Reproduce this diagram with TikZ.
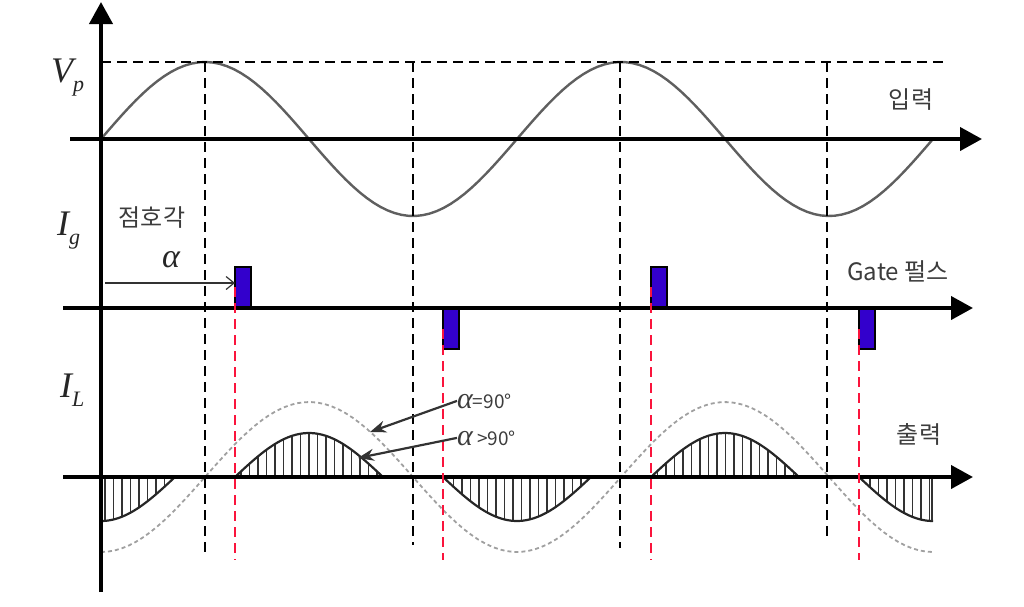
\documentclass[tikz,border=0pt]{standalone}
\usepackage{fontspec}
\newfontfamily\kor{Noto Sans CJK KR}
\newfontfamily\tnr{Liberation Serif}
\usetikzlibrary{arrows.meta}

\definecolor{pulseblue}{RGB}{51,0,204}
\definecolor{firered}{RGB}{250,20,60}
\definecolor{wavegray}{RGB}{95,95,95}
\definecolor{ghostgray}{RGB}{160,160,160}
\definecolor{labgray}{RGB}{60,60,60}

\newcommand{\quantlab}[2]{{\tnr\itshape #1\raisebox{-0.25em}{\fontsize{22}{24}\selectfont #2}}}

\tikzset{
  axis/.style={line width=4pt,-{Triangle[length=22pt,width=23pt]}},
  guide/.style={line width=2.6pt,dash pattern=on 10pt off 6pt},
  fireline/.style={firered,line width=2.6pt,dash pattern=on 10pt off 6pt},
  peakline/.style={line width=2pt,dash pattern=on 10pt off 6pt},
  inwave/.style={wavegray,line width=2.4pt},
  refwave/.style={ghostgray,line width=1.8pt,dash pattern=on 4pt off 3pt},
  outwave/.style={black!85,line width=2.2pt},
  hatch/.style={black!80,line width=1.7pt},
  gpulse/.style={draw,line width=2.4pt,fill=pulseblue,minimum width=16pt,
    minimum height=40pt,inner sep=0pt,outer sep=0pt},
  callout/.style={black!80,line width=2.2pt,-{Stealth[length=16pt,width=12pt]}},
  firearrow/.style={black!80,line width=1.2pt,-{Straight Barb[length=8pt,width=13pt]}},
  kortext/.style={text=labgray,font=\kor\fontsize{24}{28}\selectfont},
  symtext/.style={text=black!85,inner sep=0pt,anchor=base west,
    font=\fontsize{36}{40}\selectfont},
}

\begin{document}
\begin{tikzpicture}[x=1pt,y=-1pt]
  \useasboundingbox (0,0) rectangle (1024,606);

  % alpha = 90 deg output, dashed
  \draw[refwave] plot[domain=101:933,samples=120] (\x,{477+75*cos((\x-101)*0.865385)});

  % hatched output lobes
  \begin{scope}
    \clip (101,477) -- plot[domain=101:175,samples=20] (\x,{477+44*cos((\x-101)*1.21622)}) -- cycle
          (235,477) -- plot[domain=235:383,samples=40] (\x,{477-44*cos((\x-309)*1.21622)}) -- cycle
          (443,477) -- plot[domain=443:591,samples=40] (\x,{477+44*cos((\x-517)*1.21622)}) -- cycle
          (651,477) -- plot[domain=651:799,samples=40] (\x,{477-44*cos((\x-725)*1.21622)}) -- cycle
          (859,477) -- plot[domain=859:933,samples=20] (\x,{477+44*cos((\x-933)*1.21622)})
            -- (933,477) -- cycle;
    \foreach \x in {105,113.5,...,933}
      \draw[hatch] (\x,420) -- (\x,530);
  \end{scope}
  \foreach \a/\b/\c/\s in {101/175/101/1,235/383/309/-1,443/591/517/1,651/799/725/-1,859/933/933/1}
    \draw[outwave] plot[domain=\a:\b,samples=40] (\x,{477+\s*44*cos((\x-\c)*1.21622)});
  \draw[hatch] (932,477) -- (932,521);

  % input
  \draw[inwave] plot[domain=101:933,samples=120] (\x,{139-77*sin((\x-101)*0.865385)});
  \draw[peakline] (101,62) -- (945,62);

  \foreach \x/\e in {205/558,413/545,620/548,827/540}
    \draw[guide] (\x,62) -- (\x,\e);

  % axes
  \draw[axis] (101,592) -- (101,2);
  \draw[axis] (70,139) -- (982,139);
  \draw[axis] (63,308) -- (973,308);
  \draw[axis] (63,477) -- (973,477);

  % gate pulses
  \node[gpulse,anchor=south west] (gp1) at (235,307) {};
  \node[gpulse,anchor=north west] (gp2) at (443,309) {};
  \node[gpulse,anchor=south west] (gp3) at (651,307) {};
  \node[gpulse,anchor=north west] (gp4) at (859,309) {};

  \coordinate (fireEnd) at (0,560);
  \foreach \p in {gp1,gp2,gp3,gp4}
    \draw[fireline] (\p.west) -- (\p.west |- fireEnd);

  \coordinate (fireStart) at (105,283);
  \draw[firearrow] (fireStart) -- (fireStart -| gp1.west);

  % labels
  \node[symtext] (vpLab) at (51,82)  {\quantlab{V}{p}};
  \node[symtext] (igLab) at (57,235) {\quantlab{I}{g}};
  \node[symtext] (ilLab) at (60,397) {\quantlab{I}{L}};
  \node[symtext] (alphaLab) at (162,267) {\tnr\itshape\fontsize{34}{38}\selectfont α};

  \node[kortext] (angLab)  at (152,218) {점호각};
  \node[kortext] (inLab)   at (911,100) {입력};
  \node[kortext] (gateLab) at (898,271) {Gate 펄스};
  \node[kortext] (outLab)  at (919,434) {출력};

  \node[symtext,text=labgray] (eqLab) at (457,408)
    {{\tnr\itshape\fontsize{30}{32}\selectfont α}{\kor\fontsize{19}{22}\selectfont=90°}};
  \node[symtext,text=labgray] (gtLab) at (457,445)
    {{\tnr\itshape\fontsize{30}{32}\selectfont α}{\kor\fontsize{19}{22}\selectfont\ >90°}};
  \coordinate (hitEq) at (370,432);
  \coordinate (hitGt) at (358,458);
  \draw[callout] (eqLab.west) -- (hitEq);
  \draw[callout] (gtLab.west) -- (hitGt);
\end{tikzpicture}
\end{document}
